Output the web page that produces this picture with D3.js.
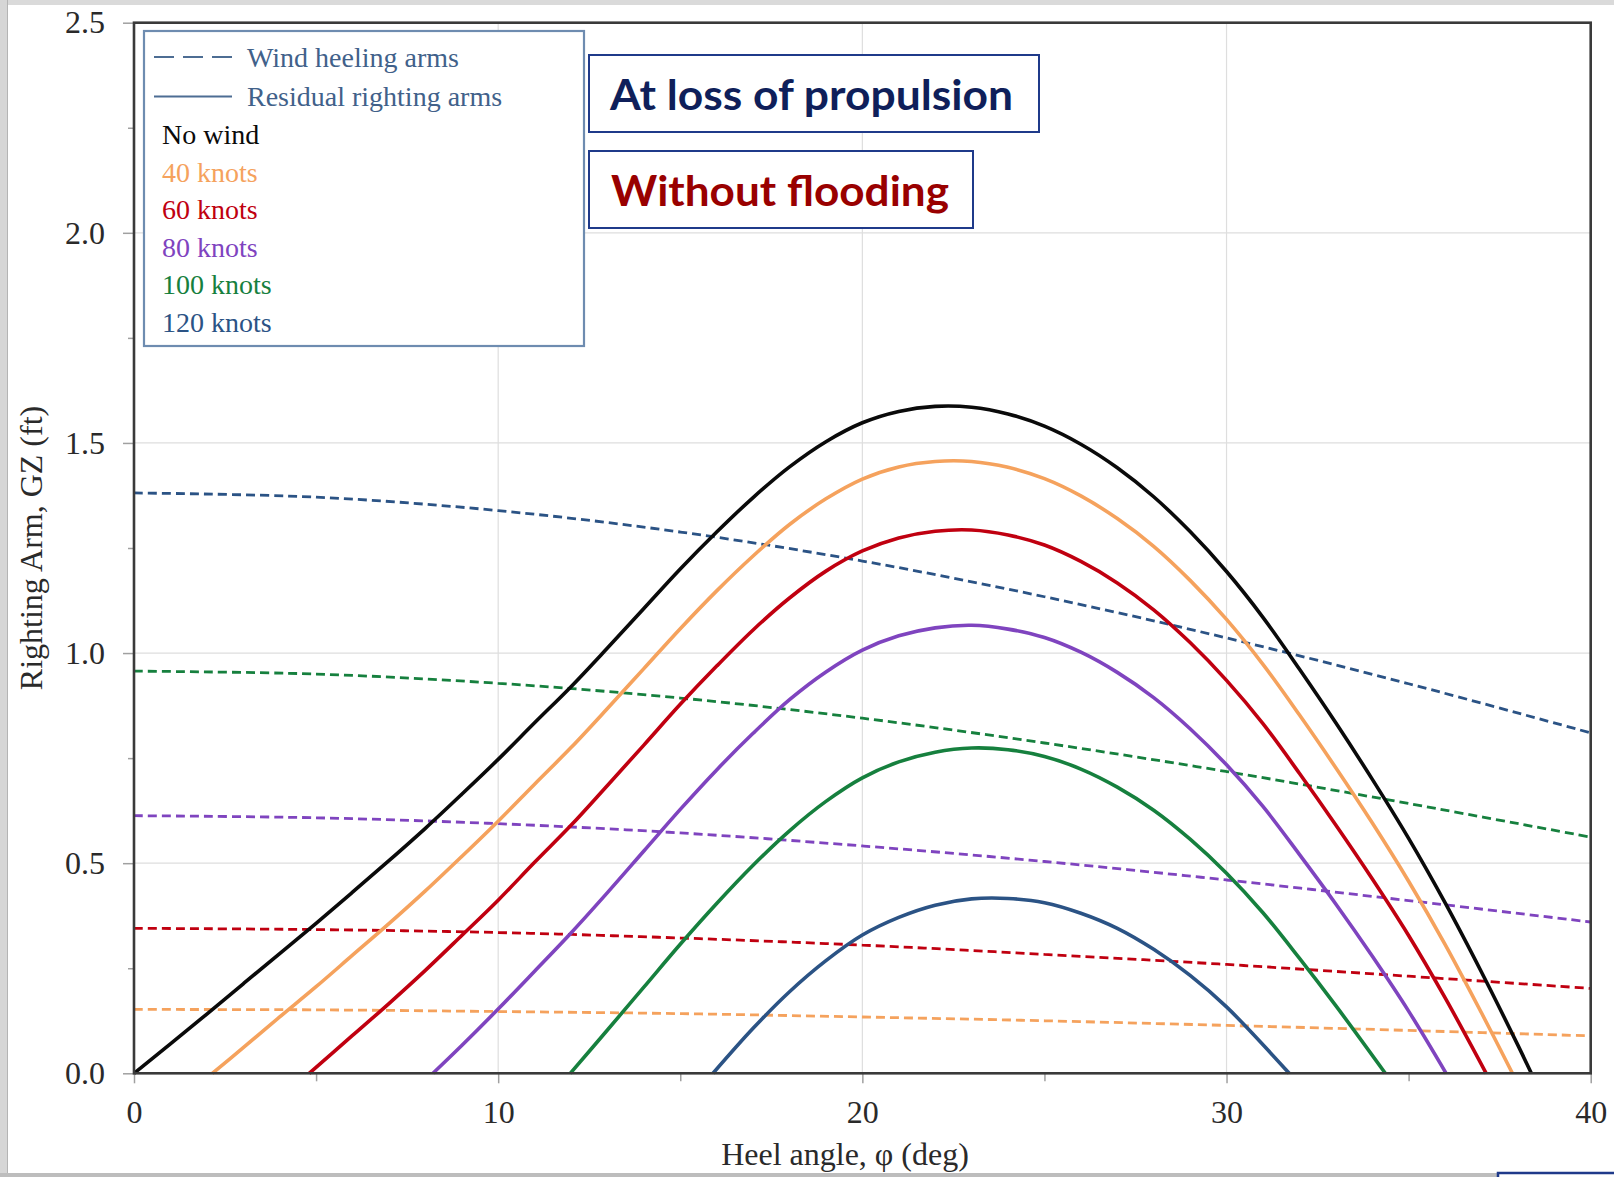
<!DOCTYPE html>
<html>
<head>
<meta charset="utf-8">
<script src="https://cdn.jsdelivr.net/npm/d3@7"></script>
<style>
  html, body { margin: 0; padding: 0; background: #fff; }
  svg { display: block; }
</style>
</head>
<body>
<svg id="chart" width="1614" height="1177"></svg>
<script>
// ---- Wind heeling arms (dashed), sampled every 5 degrees of heel ----
const heelingAngles = [0, 5, 10, 15, 20, 25, 30, 35, 40];
const heelingArm40  = [0.152, 0.151, 0.147, 0.142, 0.134, 0.125, 0.114, 0.102, 0.089];
const heelingArm60  = [0.345, 0.342, 0.335, 0.322, 0.305, 0.283, 0.259, 0.231, 0.202];
const heelingArm80  = [0.613, 0.608, 0.594, 0.572, 0.541, 0.504, 0.460, 0.411, 0.360];
const heelingArm100 = [0.957, 0.950, 0.928, 0.893, 0.845, 0.786, 0.718, 0.642, 0.562];
const heelingArm120 = [1.381, 1.371, 1.339, 1.288, 1.219, 1.134, 1.036, 0.927, 0.810];

// ---- Residual righting arms (solid): [heel angle (deg), GZ (ft)] ----
const residualNoWind = [[0,0],[1,0.070],[2,0.141],[3,0.213],[4,0.285],[5,0.357],[6,0.431],[7,0.506],[8,0.583],[9,0.664],[10,0.747],[11,0.834],[12,0.920],[13,1.012],[14,1.106],[15,1.200],[16,1.288],[17,1.370],[18,1.443],[19,1.503],[20,1.548],[21,1.575],[22,1.587],[23,1.585],[24,1.569],[25,1.540],[26,1.497],[27,1.441],[28,1.372],[29,1.289],[30,1.194],[31,1.085],[32,0.962],[33,0.834],[34,0.700],[35,0.559],[36,0.406],[37,0.241],[38,0.067],[38.37,0]];
const residual40 = [[2.15,0],[3,0.061],[4,0.134],[5,0.206],[6,0.281],[7,0.356],[8,0.434],[9,0.516],[10,0.600],[11,0.688],[12,0.775],[13,0.868],[14,0.963],[15,1.058],[16,1.148],[17,1.231],[18,1.306],[19,1.367],[20,1.414],[21,1.443],[22,1.456],[23,1.456],[24,1.442],[25,1.415],[26,1.374],[27,1.320],[28,1.254],[29,1.173],[30,1.080],[31,0.973],[32,0.853],[33,0.727],[34,0.596],[35,0.457],[36,0.307],[37,0.144],[37.85,0]];
const residual60 = [[4.81,0],[6,0.090],[7,0.166],[8,0.245],[9,0.328],[10,0.412],[11,0.502],[12,0.590],[13,0.685],[14,0.781],[15,0.878],[16,0.969],[17,1.055],[18,1.131],[19,1.195],[20,1.243],[21,1.274],[22,1.290],[23,1.293],[24,1.281],[25,1.257],[26,1.218],[27,1.167],[28,1.103],[29,1.025],[30,0.935],[31,0.832],[32,0.714],[33,0.591],[34,0.463],[35,0.328],[36,0.180],[37.13,0]];
const residual80 = [[8.21,0],[9,0.066],[10,0.153],[11,0.243],[12,0.334],[13,0.430],[14,0.529],[15,0.628],[16,0.722],[17,0.809],[18,0.889],[19,0.955],[20,1.007],[21,1.041],[22,1.060],[23,1.066],[24,1.057],[25,1.037],[26,1.002],[27,0.954],[28,0.894],[29,0.820],[30,0.734],[31,0.635],[32,0.521],[33,0.403],[34,0.279],[35,0.148],[36.03,0]];
const residual100 = [[11.98,0],[13,0.103],[14,0.205],[15,0.307],[16,0.404],[17,0.495],[18,0.577],[19,0.647],[20,0.703],[21,0.741],[22,0.764],[23,0.774],[24,0.770],[25,0.754],[26,0.724],[27,0.681],[28,0.626],[29,0.557],[30,0.476],[31,0.382],[32,0.274],[33,0.161],[34.36,0]];
const residual120 = [[15.9,0],[17,0.107],[18,0.194],[19,0.268],[20,0.329],[21,0.371],[22,0.400],[23,0.415],[24,0.416],[25,0.406],[26,0.381],[27,0.345],[28,0.295],[29,0.233],[30,0.158],[31.72,0]];

// ---- Series names, colours and axis ticks ----
const windLabels = ["No wind", "40 knots", "60 knots", "80 knots", "100 knots", "120 knots"];
const windColors = ["#0a0a0a", "#f5a25d", "#c00010", "#7f44bf", "#16803e", "#2b5385"];
const xMajorTicks = [0, 10, 20, 30, 40];
const xMinorTicks = [5, 15, 25, 35];
const yMajorTicks = [0, 0.5, 1.0, 1.5, 2.0, 2.5];
const yMinorTicks = [0.25, 0.75, 1.25, 1.75, 2.25];

const residualSeries = [residualNoWind, residual40, residual60, residual80, residual100, residual120];
const heelingSeries = [null, heelingArm40, heelingArm60, heelingArm80, heelingArm100, heelingArm120];

const svg = d3.select("#chart");
const serif = "'Liberation Serif', 'Times New Roman', serif";

const x = d3.scaleLinear().domain([0, 40]).range([134, 1590.7]);
const y = d3.scaleLinear().domain([0, 2.5]).range([1073.3, 22.7]);

// page frame (slide edges)
svg.append("rect").attr("x", 0).attr("y", 0).attr("width", 1614).attr("height", 5).attr("fill", "#dadada");
svg.append("rect").attr("x", 0).attr("y", 0).attr("width", 7).attr("height", 1177).attr("fill", "#d6d6d6");
svg.append("line").attr("x1", 7.5).attr("x2", 7.5).attr("y1", 0).attr("y2", 1177).attr("stroke", "#b4b4b4").attr("stroke-width", 1);
svg.append("rect").attr("x", 0).attr("y", 1173).attr("width", 1614).attr("height", 4).attr("fill", "#bdbdbd");

// grid
const grid = svg.append("g");
grid.selectAll(".gx").data([10, 20, 30]).join("line")
  .attr("x1", d => x(d)).attr("x2", d => x(d))
  .attr("y1", y(2.5)).attr("y2", y(0))
  .attr("stroke", "#dedede").attr("stroke-width", 1.2);
grid.selectAll(".gy").data([0.5, 1.0, 1.5, 2.0]).join("line")
  .attr("x1", x(0)).attr("x2", x(40))
  .attr("y1", d => y(d)).attr("y2", d => y(d))
  .attr("stroke", "#dedede").attr("stroke-width", 1.2);

// axes
function styleAxis(g) {
  g.select(".domain").remove();
  g.selectAll(".tick line").attr("stroke", "#a0a0a0").attr("stroke-width", 1.5);
  g.selectAll(".tick text").attr("fill", "#2a2a2a").style("font-family", serif).style("font-size", "32px");
}
svg.append("g").attr("transform", `translate(0,${y(0)})`)
  .call(d3.axisBottom(x).tickValues(xMinorTicks).tickSize(8).tickFormat(""))
  .call(styleAxis);
svg.append("g").attr("transform", `translate(0,${y(0)})`)
  .call(d3.axisBottom(x).tickValues(xMajorTicks).tickSize(10).tickPadding(17).tickFormat(d3.format("d")))
  .call(styleAxis);
svg.append("g").attr("transform", `translate(${x(0)},0)`)
  .call(d3.axisLeft(y).tickValues(yMinorTicks).tickSize(6).tickFormat(""))
  .call(styleAxis);
svg.append("g").attr("transform", `translate(${x(0)},0)`)
  .call(d3.axisLeft(y).tickValues(yMajorTicks).tickSize(11).tickPadding(18).tickFormat(d3.format(".1f")))
  .call(styleAxis);

// axis titles
svg.append("text")
  .attr("x", 845).attr("y", 1165)
  .attr("text-anchor", "middle")
  .attr("fill", "#2a2a2a")
  .style("font-family", serif).style("font-size", "32px")
  .text("Heel angle, φ (deg)");
svg.append("text")
  .attr("transform", "translate(42,548) rotate(-90)")
  .attr("text-anchor", "middle")
  .attr("fill", "#2a2a2a")
  .style("font-family", serif).style("font-size", "32px")
  .text("Righting Arm, GZ (ft)");

// curves
const line = d3.line().x(d => x(d[0])).y(d => y(d[1])).curve(d3.curveCatmullRom.alpha(0.5));
const plot = svg.append("g");

heelingSeries.forEach((vals, i) => {
  if (!vals) return;
  const pts = heelingAngles.map((a, k) => [a, vals[k]]);
  plot.append("path").attr("d", line(pts))
    .attr("fill", "none").attr("stroke", windColors[i])
    .attr("stroke-width", 2.8).attr("stroke-dasharray", "9,5");
});
residualSeries.forEach((pts, i) => {
  plot.append("path").attr("d", line(pts))
    .attr("fill", "none").attr("stroke", windColors[i])
    .attr("stroke-width", 3.6).attr("stroke-linejoin", "round");
});

// plot frame
svg.append("rect")
  .attr("x", x(0)).attr("y", y(2.5))
  .attr("width", x(40) - x(0)).attr("height", y(0) - y(2.5))
  .attr("fill", "none").attr("stroke", "#3a3a3a").attr("stroke-width", 2.6);

// legend
const legend = svg.append("g");
legend.append("rect")
  .attr("x", 144).attr("y", 31).attr("width", 440).attr("height", 315)
  .attr("fill", "#fff").attr("stroke", "#6e8cb0").attr("stroke-width", 2.2);
legend.append("line").attr("x1", 154).attr("x2", 232).attr("y1", 57).attr("y2", 57)
  .attr("stroke", "#4d6d93").attr("stroke-width", 2).attr("stroke-dasharray", "20,9");
legend.append("line").attr("x1", 154).attr("x2", 232).attr("y1", 96.5).attr("y2", 96.5)
  .attr("stroke", "#4d6d93").attr("stroke-width", 2);
legend.append("text").attr("x", 247).attr("y", 67)
  .attr("fill", "#41618a").style("font-family", serif).style("font-size", "28px")
  .text("Wind heeling arms");
legend.append("text").attr("x", 247).attr("y", 106)
  .attr("fill", "#41618a").style("font-family", serif).style("font-size", "28px")
  .text("Residual righting arms");
legend.selectAll(".entry").data(windLabels).join("text")
  .attr("x", 162).attr("y", (d, i) => 144 + i * 37.5)
  .attr("fill", (d, i) => windColors[i])
  .style("font-family", serif).style("font-size", "28px")
  .text(d => d);

// condition labels
const sans = "Lato, 'Open Sans', 'Noto Sans', sans-serif";
svg.append("rect").attr("x", 589).attr("y", 55).attr("width", 450).attr("height", 77)
  .attr("fill", "#fff").attr("stroke", "#1f3a8a").attr("stroke-width", 2);
svg.append("text").attr("x", 610).attr("y", 110)
  .attr("fill", "#0f1f5a").style("font-family", sans).style("font-weight", "bold").style("font-size", "42px")
  .attr("textLength", 403).attr("lengthAdjust", "spacingAndGlyphs")
  .text("At loss of propulsion");
svg.append("rect").attr("x", 589).attr("y", 151).attr("width", 384).attr("height", 77)
  .attr("fill", "#fff").attr("stroke", "#1f3a8a").attr("stroke-width", 2);
svg.append("text").attr("x", 611).attr("y", 206)
  .attr("fill", "#990000").style("font-family", sans).style("font-weight", "bold").style("font-size", "42px")
  .attr("textLength", 338).attr("lengthAdjust", "spacingAndGlyphs")
  .text("Without flooding");

// edge of the next panel at the bottom right
svg.append("rect").attr("x", 1498).attr("y", 1173).attr("width", 140).attr("height", 30)
  .attr("fill", "#fff").attr("stroke", "#1f3a8a").attr("stroke-width", 2.5);
</script>
</body>
</html>
